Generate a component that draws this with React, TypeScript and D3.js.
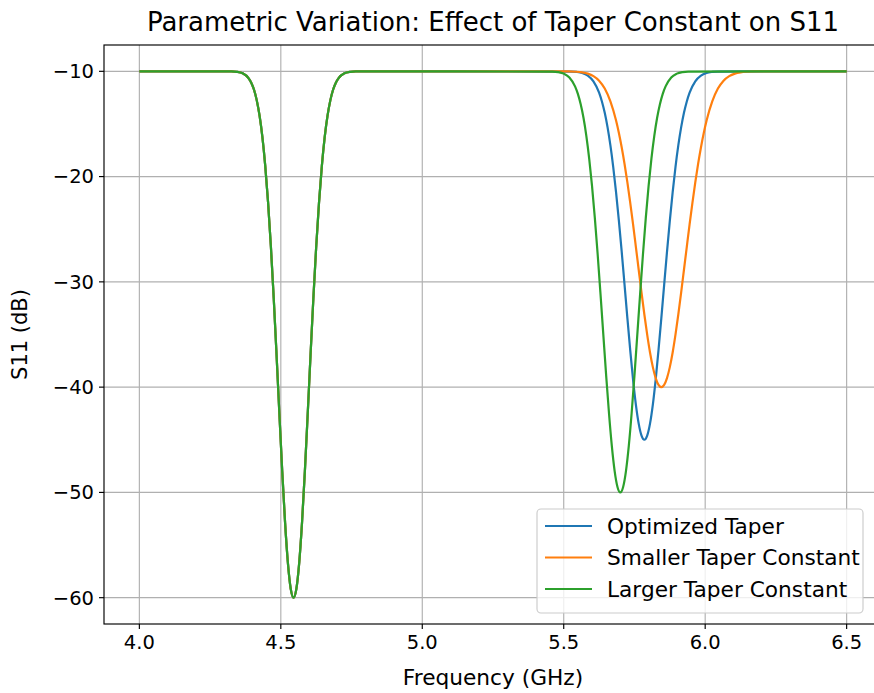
import React from "react";
import * as d3 from "d3";

// S11 curves: [frequency GHz, S11 dB]
const lowBandDip: [number, number][] = [
  [4.325, -10.01], [4.345, -10.05], [4.365, -10.19], [4.385, -10.62], [4.395, -11.06],
  [4.405, -11.73], [4.415, -12.76], [4.425, -14.24], [4.435, -16.28], [4.445, -19.0],
  [4.455, -22.47], [4.465, -26.69], [4.475, -31.58], [4.485, -36.97], [4.495, -42.57],
  [4.505, -48.0], [4.515, -52.85], [4.525, -56.69], [4.535, -59.15], [4.545, -60.0],
  [4.555, -59.15], [4.565, -56.69], [4.575, -52.85], [4.585, -48.0], [4.595, -42.57],
  [4.605, -36.97], [4.615, -31.58], [4.625, -26.69], [4.635, -22.47], [4.645, -19.0],
  [4.655, -16.28], [4.665, -14.24], [4.675, -12.76], [4.685, -11.73], [4.695, -11.06],
  [4.705, -10.62], [4.725, -10.19], [4.745, -10.05], [4.765, -10.01],
];

const optimizedHigh: [number, number][] = [
  [5.525, -10.02], [5.545, -10.06], [5.565, -10.16], [5.585, -10.41], [5.605, -10.95],
  [5.625, -12.02], [5.635, -12.86], [5.645, -13.94], [5.655, -15.33], [5.665, -17.04],
  [5.675, -19.09], [5.685, -21.49], [5.695, -24.2], [5.705, -27.16], [5.715, -30.28],
  [5.725, -33.44], [5.735, -36.49], [5.745, -39.29], [5.755, -41.66], [5.765, -43.47],
  [5.775, -44.61], [5.785, -45.0], [5.795, -44.61], [5.805, -43.47], [5.815, -41.66],
  [5.825, -39.29], [5.835, -36.49], [5.845, -33.44], [5.855, -30.28], [5.865, -27.16],
  [5.875, -24.2], [5.885, -21.49], [5.895, -19.09], [5.905, -17.04], [5.915, -15.33],
  [5.925, -13.94], [5.935, -12.86], [5.945, -12.02], [5.965, -10.95], [5.985, -10.41],
  [6.005, -10.16], [6.025, -10.06], [6.045, -10.02],
];

const smallerHigh: [number, number][] = [
  [5.515, -10.01], [5.545, -10.04], [5.565, -10.1], [5.585, -10.22], [5.605, -10.46],
  [5.625, -10.89], [5.645, -11.64], [5.665, -12.86], [5.685, -14.68], [5.695, -15.86],
  [5.705, -17.23], [5.715, -18.8], [5.725, -20.55], [5.735, -22.47], [5.745, -24.52],
  [5.755, -26.67], [5.765, -28.85], [5.775, -31.02], [5.785, -33.1], [5.795, -35.02],
  [5.805, -36.71], [5.815, -38.1], [5.825, -39.14], [5.835, -39.78], [5.845, -40.0],
  [5.855, -39.78], [5.865, -39.14], [5.875, -38.1], [5.885, -36.71], [5.895, -35.02],
  [5.905, -33.1], [5.915, -31.02], [5.925, -28.85], [5.935, -26.67], [5.945, -24.52],
  [5.955, -22.47], [5.965, -20.55], [5.975, -18.8], [5.985, -17.23], [5.995, -15.86],
  [6.005, -14.68], [6.025, -12.86], [6.045, -11.64], [6.065, -10.89], [6.085, -10.46],
  [6.105, -10.22], [6.125, -10.1], [6.145, -10.04], [6.175, -10.01],
];

const largerHigh: [number, number][] = [
  [5.46, -10.02], [5.48, -10.07], [5.5, -10.22], [5.52, -10.59], [5.54, -11.43],
  [5.55, -12.14], [5.56, -13.13], [5.57, -14.44], [5.58, -16.15], [5.59, -18.29],
  [5.6, -20.89], [5.61, -23.95], [5.62, -27.4], [5.63, -31.15], [5.64, -35.04],
  [5.65, -38.9], [5.66, -42.48], [5.67, -45.58], [5.68, -47.97], [5.69, -49.48],
  [5.7, -50.0], [5.71, -49.48], [5.72, -47.97], [5.73, -45.58], [5.74, -42.48],
  [5.75, -38.9], [5.76, -35.04], [5.77, -31.15], [5.78, -27.4], [5.79, -23.95],
  [5.8, -20.89], [5.81, -18.29], [5.82, -16.15], [5.83, -14.44], [5.84, -13.13],
  [5.85, -12.14], [5.86, -11.43], [5.88, -10.59], [5.9, -10.22], [5.92, -10.07],
  [5.94, -10.02],
];

const seriesNames = ["Optimized Taper", "Smaller Taper Constant", "Larger Taper Constant"];
const seriesColors = ["#1f77b4", "#ff7f0e", "#2ca02c"];
const highDips = [optimizedHigh, smallerHigh, largerHigh];

const xTicks = [4.0, 4.5, 5.0, 5.5, 6.0, 6.5];
const yTicks = [-60, -50, -40, -30, -20, -10];

const W = 874;
const H = 693;
const left = 104;
const right = 882;
const top = 45;
const bottom = 624;
const font = "DejaVu Sans";

export default function App() {
  const x = d3.scaleLinear().domain([3.875, 6.625]).range([left, right]);
  const y = d3.scaleLinear().domain([-62.5, -7.5]).range([bottom, top]);

  const line = d3
    .line<[number, number]>()
    .x((d) => x(d[0]))
    .y((d) => y(d[1]))
    .curve(d3.curveMonotoneX);

  const series = highDips.map((hd) => [[4.0, -10], ...lowBandDip, ...hd, [6.5, -10]] as [number, number][]);
  const minus = (v: number) => (v < 0 ? "\u2212" + Math.abs(v) : String(v));

  return (
    <svg width={W} height={H} style={{ position: "absolute", left: 0, top: 0, background: "#fff" }} fontFamily={font}>
      <defs>
        <clipPath id="plot">
          <rect x={left} y={top} width={right - left} height={bottom - top} />
        </clipPath>
      </defs>
      <rect x={0} y={0} width={W} height={H} fill="#fff" />
      {/* grid */}
      {xTicks.map((t) => (
        <line key={"gx" + t} x1={x(t)} x2={x(t)} y1={top} y2={bottom} stroke="#b0b0b0" strokeWidth={1.15} />
      ))}
      {yTicks.map((t) => (
        <line key={"gy" + t} x1={left} x2={right} y1={y(t)} y2={y(t)} stroke="#b0b0b0" strokeWidth={1.15} />
      ))}
      {/* curves */}
      <g clipPath="url(#plot)">
        {series.map((s, i) => (
          <path key={i} d={line(s) || ""} fill="none" stroke={seriesColors[i]} strokeWidth={2.2} strokeLinejoin="round" />
        ))}
      </g>
      {/* spines */}
      <rect x={left} y={top} width={right - left} height={bottom - top} fill="none" stroke="#000" strokeWidth={1.15} />
      {/* ticks */}
      {xTicks.map((t) => (
        <g key={"tx" + t}>
          <line x1={x(t)} x2={x(t)} y1={bottom} y2={bottom + 5} stroke="#000" strokeWidth={1.15} />
          <text x={x(t)} y={bottom + 25} textAnchor="middle" fontSize={19.5} fill="#000">
            {d3.format(".1f")(t)}
          </text>
        </g>
      ))}
      {yTicks.map((t) => (
        <g key={"ty" + t}>
          <line x1={left - 5} x2={left} y1={y(t)} y2={y(t)} stroke="#000" strokeWidth={1.15} />
          <text x={left - 10} y={y(t)} dy="0.35em" textAnchor="end" fontSize={19.5} fill="#000">
            {minus(t)}
          </text>
        </g>
      ))}
      {/* labels */}
      <text x={(left + right) / 2} y={31} textAnchor="middle" fontSize={26} fill="#000">
        Parametric Variation: Effect of Taper Constant on S11
      </text>
      <text x={(left + right) / 2} y={685} textAnchor="middle" fontSize={21.7} fill="#000">
        Frequency (GHz)
      </text>
      <text transform={`translate(27,${(top + bottom) / 2}) rotate(-90)`} textAnchor="middle" fontSize={21} fill="#000">
        S11 (dB)
      </text>
      {/* legend */}
      <g>
        <rect x={537} y={509} width={326} height={104} rx={4} fill="#fff" fillOpacity={0.8} stroke="#cccccc" strokeWidth={1.15} />
        {seriesNames.map((n, i) => (
          <g key={n} transform={`translate(0,${526 + i * 31.5})`}>
            <line x1={545} x2={592} y1={0} y2={0} stroke={seriesColors[i]} strokeWidth={2.2} />
            <text x={607} y={0} dy="0.35em" fontSize={21.7} fill="#000">
              {n}
            </text>
          </g>
        ))}
      </g>
    </svg>
  );
}
